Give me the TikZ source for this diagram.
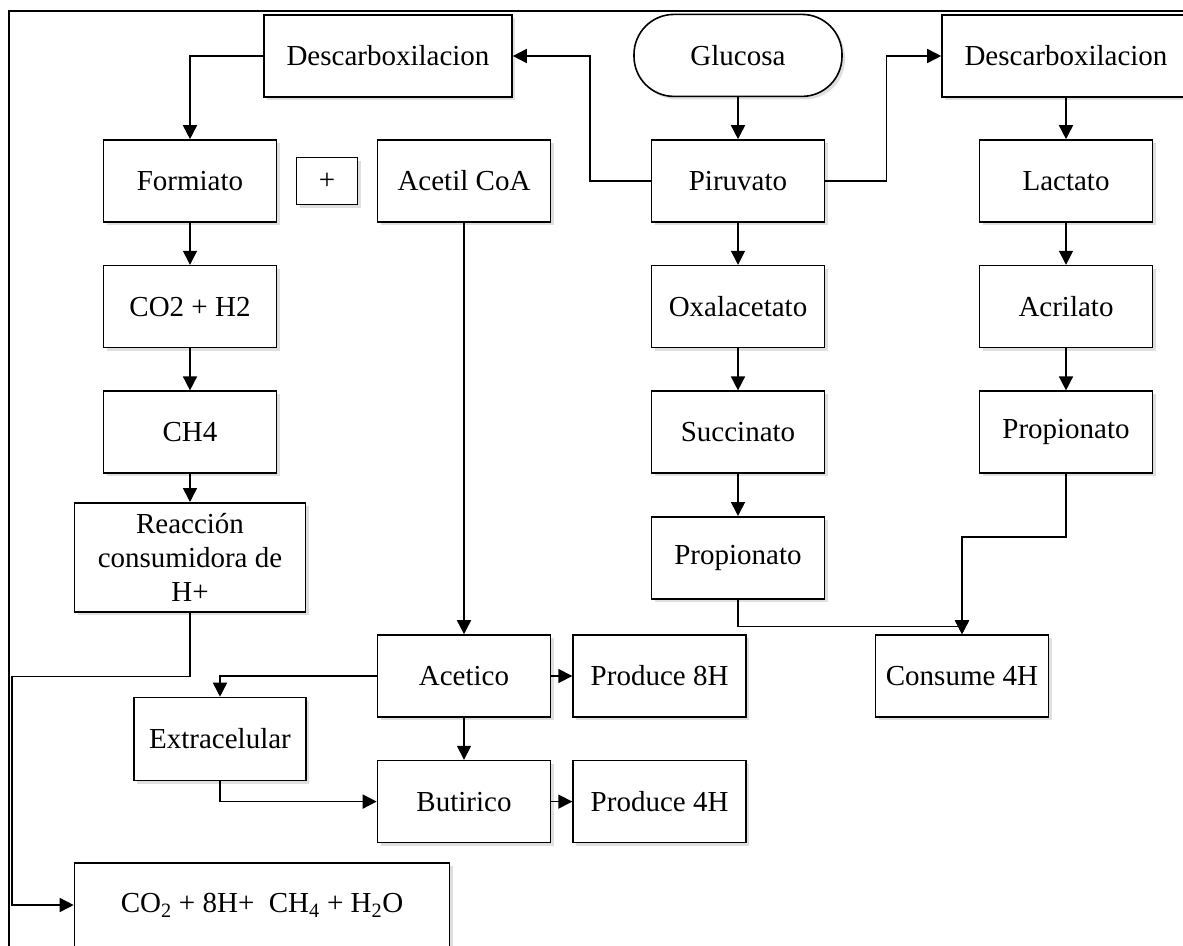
\documentclass[tikz,border=0pt]{standalone}
\usepackage{fontspec}
\setmainfont{Liberation Serif}
\usetikzlibrary{arrows.meta,positioning,shadows}

\begin{document}
\begin{tikzpicture}[x=1pt, y=-1pt,
	box/.style={draw, line width=1.6pt, fill=white, minimum width=173pt, minimum height=82pt,
		inner sep=0pt, align=center, font=\fontsize{29}{34}\selectfont,
		drop shadow={shadow xshift=3pt, shadow yshift=-3pt, opacity=0.25}},
	flow/.style={->, line width=1.6pt},
	>={Triangle[length=14pt, width=14pt]}]
	\useasboundingbox (0,0) rectangle (1183,945);
	\draw[line width=1.2pt] (9,960) |- (1200,11);
	
	% Knoten
	\node[box] (piru) at (738,181) {Piruvato};
	\node[box, minimum width=208pt, rounded corners=40pt, above=42pt of piru] (gluc) {Glucosa};
	\node[box, minimum width=248pt] (descL) at (388,56) {Descarboxilacion};
	\node[box, minimum width=248pt] (descR) at (1066,56) {Descarboxilacion};
	\node[box] (form) at (190,181) {Formiato};
	\node[box, minimum width=61pt, minimum height=47pt] (mas) at (327,181) {+};
	\node[box] (acet) at (464,181) {Acetil CoA};
	\node[box] (lact) at (1066,181) {Lactato};
	
	\node[box, below=42pt of form] (coh) {CO2 + H2};
	\node[box, below=42pt of coh] (meth) {CH4};
	\node[box, minimum width=231pt, minimum height=109pt, below=28pt of meth] (reac) {Reacción\\consumidora de\\H+};
	
	\node[box, below=42pt of piru] (oxal) {Oxalacetato};
	\node[box, below=42pt of oxal] (succ) {Succinato};
	\node[box, below=42pt of succ] (propM) {Propionato};
	
	\node[box, below=42pt of lact] (acri) {Acrilato};
	\node[box, below=42pt of acri] (propR) {Propionato};
	
	\node[box] (aceti) at (464,676) {Acetico};
	\node[box, right=21pt of aceti] (prod8) {Produce 8H};
	\node[box] (cons) at (962,676) {Consume 4H};
	\node[box, minimum width=172pt, minimum height=83pt] (extra) at (220,739) {Extracelular};
	\node[box, below=42pt of aceti] (buti) {Butirico};
	\node[box, right=21pt of buti] (prod4) {Produce 4H};
	\node[box, minimum width=375pt, minimum height=84pt] (final) at (262,905)
		{CO\textsubscript{2} + 8H+\ \ CH\textsubscript{4} + H\textsubscript{2}O};
	
	% Kanten
	\draw[flow] (gluc) -- (piru);
	\draw[flow] (piru.west) -- ++(-61,0) |- (descL);
	\draw[flow] (piru.east) -- ++(61,0) |- (descR);
	\draw[flow] (descL.west) -| (form);
	\draw[flow] (form) -- (coh);
	\draw[flow] (coh) -- (meth);
	\draw[flow] (meth) -- (reac);
	\draw[flow] (reac.south) -- ++(0,64) -| ([xshift=-62pt]final.west) -- (final.west);
	
	\draw[flow] (acet) -- (aceti);
	\draw[flow] (aceti.west) -| (extra);
	\draw[flow] (aceti) -- (prod8);
	\draw[flow] (aceti) -- (buti);
	\draw[flow] (extra.south) |- (buti);
	\draw[flow] (buti) -- (prod4);
	
	\draw[flow] (piru) -- (oxal);
	\draw[flow] (oxal) -- (succ);
	\draw[flow] (succ) -- (propM);
	\draw[flow] (propM.south) -- ++(0,27) -| (cons);
	
	\draw[flow] (descR) -- (lact);
	\draw[flow] (lact) -- (acri);
	\draw[flow] (acri) -- (propR);
	\draw[flow] (propR.south) -- ++(0,63) -| (cons);
	
\end{tikzpicture}
\end{document}
